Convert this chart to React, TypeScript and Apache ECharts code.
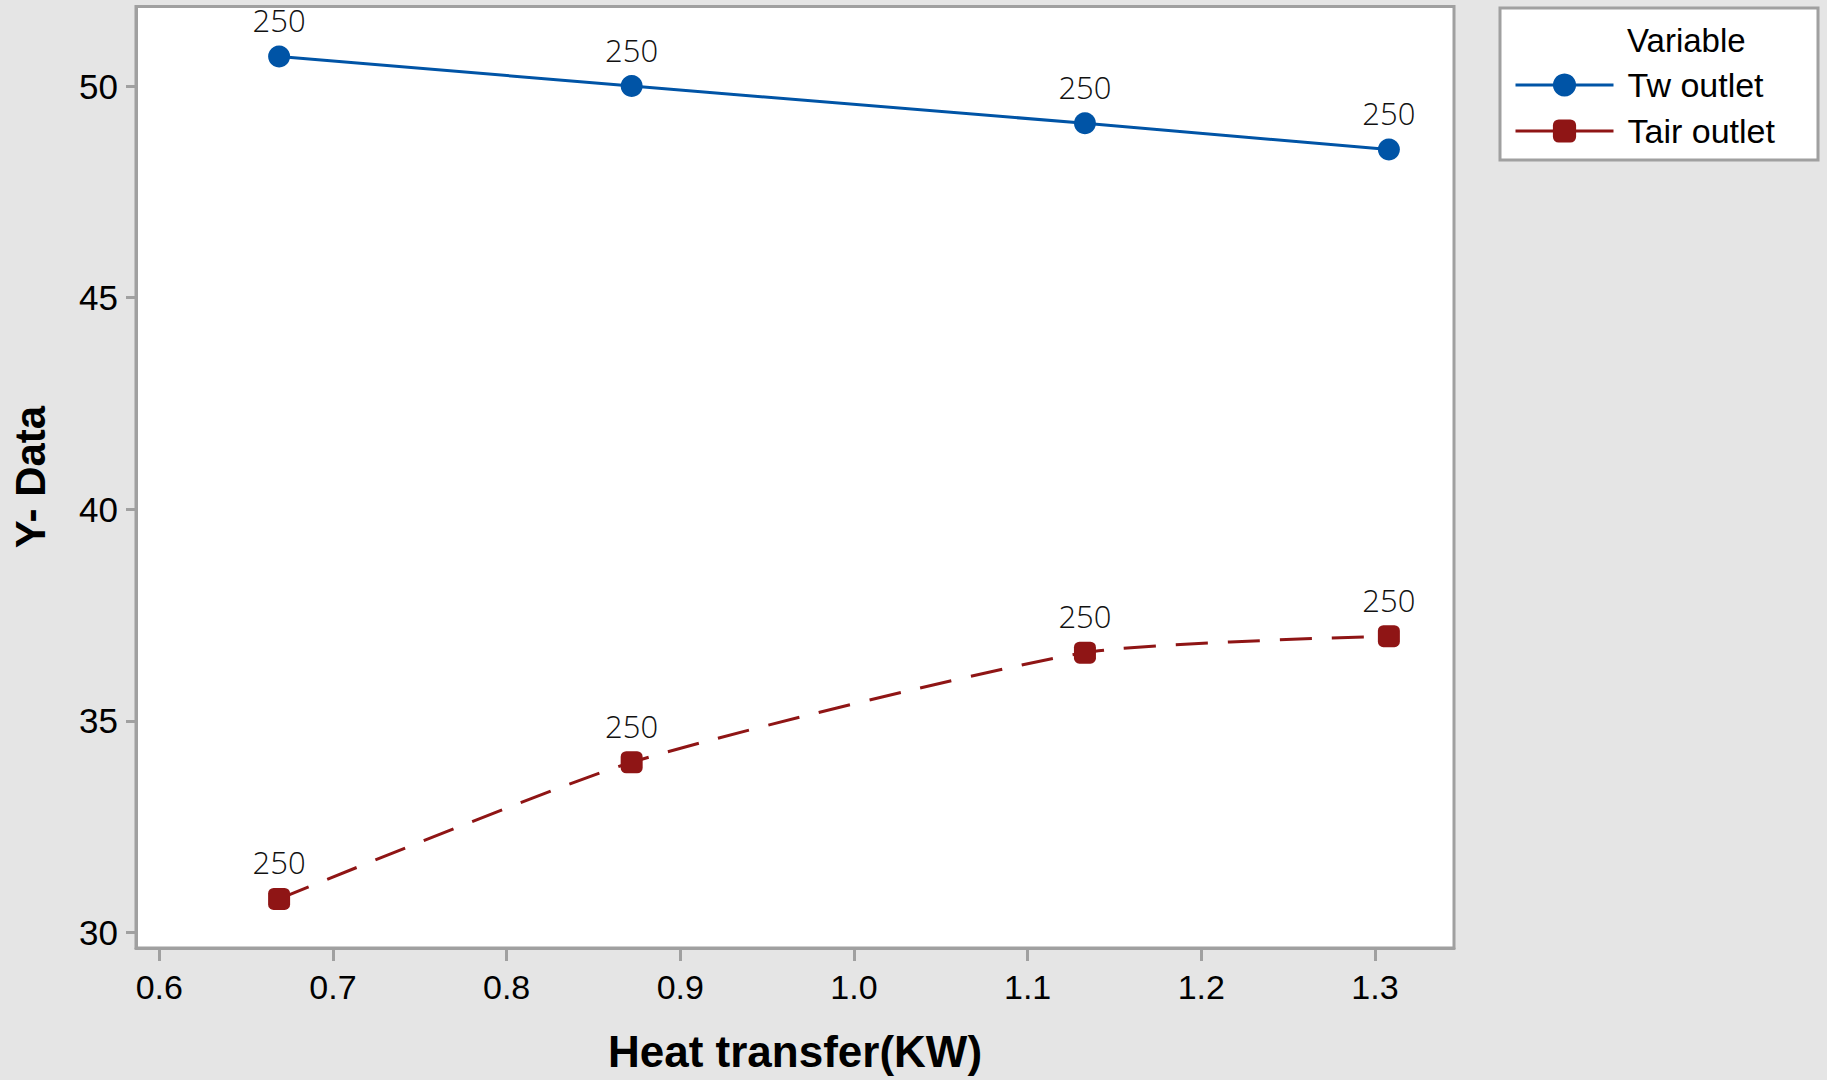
import React, { useEffect, useRef } from "react";
import * as echarts from "echarts";

const heatTransfer = [0.669, 0.872, 1.133, 1.308];
const twOutlet = [50.7, 50.0, 49.12, 48.5];
const tairOutlet = [30.79, 34.02, 36.61, 37.0];
const pointLabels = ["250", "250", "250", "250"];
const xTicks = [0.6, 0.7, 0.8, 0.9, 1.0, 1.1, 1.2, 1.3];
const yTicks = [30, 35, 40, 45, 50];
const seriesNames = ["Tw outlet", "Tair outlet"];

const BLUE = "#0054A6";
const RED = "#8F1515";
const GRAY = "#A0A0A0";
const BG = "#E5E5E5";

export default function App() {
  const ref = useRef<HTMLDivElement>(null);
  useEffect(() => {
    document.body.style.margin = "0";
    const chart = echarts.init(ref.current!, null, { renderer: "svg" });
    const labelCfg = {
      show: true,
      position: "top",
      distance: 10,
      color: "#111",
      fontFamily: "Open Sans",
      fontWeight: 300,
      fontSize: 31,
      formatter: (p: any) => pointLabels[p.dataIndex],
    };
    chart.setOption({
      animation: false,
      backgroundColor: BG,
      grid: {
        left: 136,
        right: 373,
        top: 6.5,
        bottom: 132,
        show: true,
        backgroundColor: "#fff",
        borderColor: GRAY,
        borderWidth: 3,
      },
      xAxis: {
        type: "value",
        min: 0.5866,
        max: 1.3455,
        splitLine: { show: false },
        axisLine: { show: true, lineStyle: { color: GRAY, width: 3 } },
        axisTick: { show: true, length: 13, lineStyle: { color: GRAY, width: 3 }, customValues: xTicks },
        axisLabel: {
          customValues: xTicks,
          formatter: (v: number) => v.toFixed(1),
          color: "#000",
          fontFamily: "Liberation Sans",
          fontSize: 34,
          margin: 22,
        },
      },
      yAxis: {
        type: "value",
        min: 29.63,
        max: 51.88,
        splitLine: { show: false },
        axisLine: { show: true, lineStyle: { color: GRAY, width: 3 } },
        axisTick: { show: true, length: 10, lineStyle: { color: GRAY, width: 3 }, customValues: yTicks },
        axisLabel: {
          customValues: yTicks,
          color: "#000",
          fontFamily: "Liberation Sans",
          fontSize: 35,
          margin: 18,
        },
      },
      legend: {
        orient: "vertical",
        left: 1509,
        top: 63,
        itemWidth: 98,
        itemHeight: 29,
        itemGap: 12,
        textStyle: {
          color: "#000",
          fontFamily: "Liberation Sans",
          fontSize: 34,
          padding: [0, 0, 0, 9],
        },
        data: [
          { name: seriesNames[0], lineStyle: { width: 3 } },
          { name: seriesNames[1], lineStyle: { type: "solid", width: 3 } },
        ],
      },
      graphic: [
        {
          type: "rect",
          z: 0,
          shape: { x: 1500, y: 8, width: 318, height: 152 },
          style: { fill: "#fff", stroke: GRAY, lineWidth: 3 },
        },
        {
          type: "text",
          z: 1,
          x: 1627,
          y: 40,
          style: {
            text: "Variable",
            fill: "#000",
            font: "33px 'Liberation Sans'",
            textVerticalAlign: "middle",
          },
        },
        {
          type: "text",
          x: 795,
          y: 1051,
          style: {
            text: "Heat transfer(KW)",
            fill: "#000",
            font: "bold 44px 'Liberation Sans'",
            textAlign: "center",
            textVerticalAlign: "middle",
          },
        },
        {
          type: "text",
          x: 30,
          y: 477,
          rotation: Math.PI / 2,
          style: {
            text: "Y- Data",
            fill: "#000",
            font: "bold 42px 'Liberation Sans'",
            textAlign: "center",
            textVerticalAlign: "middle",
          },
        },
      ],
      series: [
        {
          name: seriesNames[0],
          type: "line",
          data: heatTransfer.map((x, i) => [x, twOutlet[i]]),
          symbol: "circle",
          symbolSize: 22,
          itemStyle: { color: BLUE },
          lineStyle: { color: BLUE, width: 3 },
          label: labelCfg,
        },
        {
          name: seriesNames[1],
          type: "line",
          data: heatTransfer.map((x, i) => [x, tairOutlet[i]]),
          symbol: "roundRect",
          symbolSize: 22,
          smooth: 0.2,
          itemStyle: { color: RED },
          lineStyle: { color: RED, width: 3, type: [32, 20] },
          label: labelCfg,
        },
      ],
    });
    return () => chart.dispose();
  }, []);
  return <div ref={ref} style={{ width: 1827, height: 1080 }} />;
}
